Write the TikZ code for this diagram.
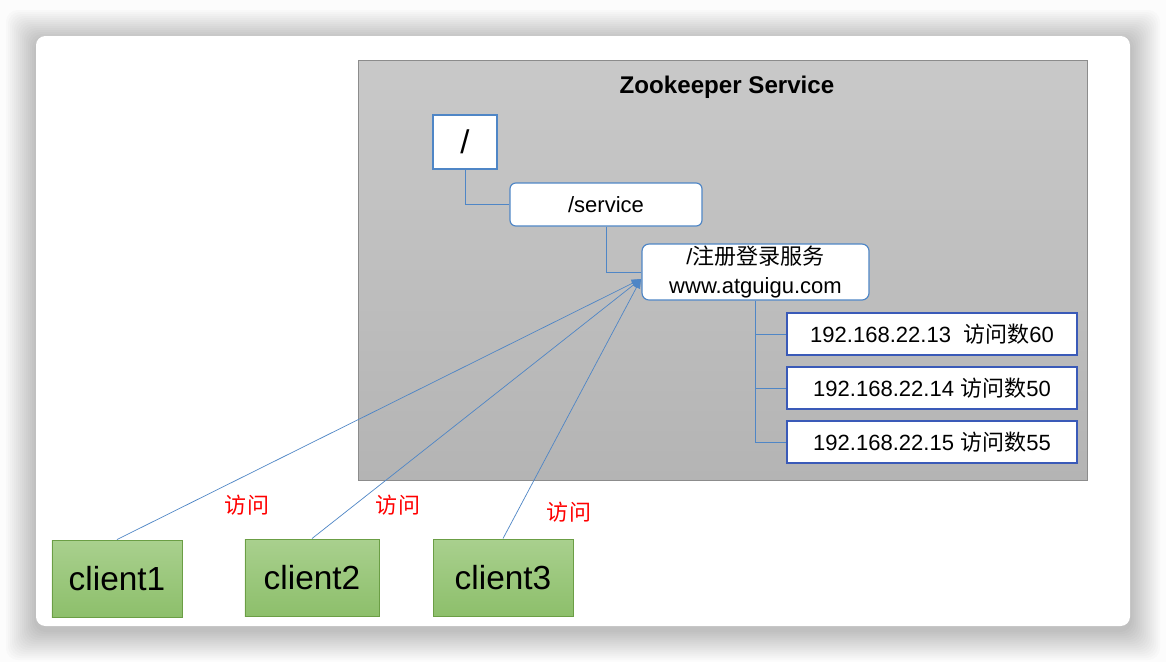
\documentclass[tikz,border=0pt]{standalone}
\usepackage{fontspec}
\setmainfont{Liberation Sans}
\newfontfamily\cjk{Noto Sans CJK SC}
\usetikzlibrary{arrows.meta,positioning}
\definecolor{zkline}{RGB}{79,134,198}
\definecolor{zkipblue}{RGB}{58,90,184}
\definecolor{zkgreen}{RGB}{107,158,69}
\definecolor{zkgreentop}{RGB}{169,208,142}
\definecolor{zkgreenbot}{RGB}{141,191,107}
\definecolor{zkgreytop}{RGB}{201,201,201}
\definecolor{zkgreybot}{RGB}{180,180,180}
\definecolor{zkgreyedge}{RGB}{140,140,140}

\begin{document}
\begin{tikzpicture}[x=0.03cm, y=-0.03cm,
  zbox/.style={draw=zkline, line width=1pt, fill=white, inner sep=0pt,
               font=\fontsize{18.8}{24}\selectfont},
  ipbox/.style={draw=zkipblue, line width=1.2pt, fill=white, inner sep=0pt,
                minimum width=8.7cm, minimum height=1.26cm,
                font=\fontsize{18.8}{24}\selectfont},
  clientbox/.style={draw=zkgreen, line width=0.8pt,
                    top color=zkgreentop, bottom color=zkgreenbot,
                    minimum height=2.31cm, inner sep=0pt,
                    font=\fontsize{28.5}{32}\selectfont},
  visit/.style={text=red, font=\cjk\fontsize{18.8}{22}\selectfont},
  link/.style={draw=zkline, line width=0.6pt}]
  \useasboundingbox (0,0) rectangle (1166,662);
  \fill[white!99!black] (0,0) rectangle (1166,662);
  % card with soft shadow
  \foreach \i in {1,...,15}
    \fill[black, opacity=0.014, rounded corners=10pt]
      (36-2*\i, 40-2*\i) rectangle (1130+2*\i, 630+2*\i);
  \fill[white, rounded corners=8pt] (36,36) rectangle (1130,626);

  % zookeeper service area
  \draw[draw=zkgreyedge, line width=0.6pt, top color=zkgreytop, bottom color=zkgreybot]
    (358,60) rectangle (1087,480);
  \node[font=\bfseries\fontsize{20.6}{24}\selectfont] (title) at (727,87) {Zookeeper Service};

  % znodes
  \node[zbox, minimum width=1.92cm, minimum height=1.62cm,
        font=\fontsize{28}{30}\selectfont] (root) at (465,142) {/};
  \node[zbox, rounded corners=5pt, minimum width=5.76cm, minimum height=1.29cm]
    (svc) at (606,204.5) {/service};
  \node[zbox, rounded corners=6pt, minimum width=6.81cm, minimum height=1.68cm, align=center]
    (reg) at (755.5,272) {/{\cjk 注册登录服务}\\www.atguigu.com};
  \node[ipbox] (ip1) at (932,334) {192.168.22.13~ {\cjk 访问数}60};
  \node[ipbox] (ip2) at (932,388) {192.168.22.14 {\cjk 访问数}50};
  \node[ipbox] (ip3) at (932,442) {192.168.22.15 {\cjk 访问数}55};

  \draw[link] (root.south) |- (svc.west);
  \draw[link] (svc.south) |- (reg.west);
  \foreach \n in {ip1,ip2,ip3}
    \draw[link] (reg.south) |- (\n.west);

  % clients
  \node[clientbox, minimum width=3.9cm] (c1) at (117,578.5) {client1};
  \node[clientbox, minimum width=4.02cm] (c2) at (312,577.5) {client2};
  \node[clientbox, minimum width=4.2cm] (c3) at (503,577.5) {client3};

  \coordinate (hit) at (641,279);
  \foreach \c in {c1,c2,c3}
    \draw[link, -{Triangle[length=8pt,width=6.5pt]}] (\c.north) -- (hit);

  \node[visit] (v1) at (247,505) {访问};
  \node[visit] (v2) at (398,505) {访问};
  \node[visit] (v3) at (569,512) {访问};
\end{tikzpicture}
\end{document}
